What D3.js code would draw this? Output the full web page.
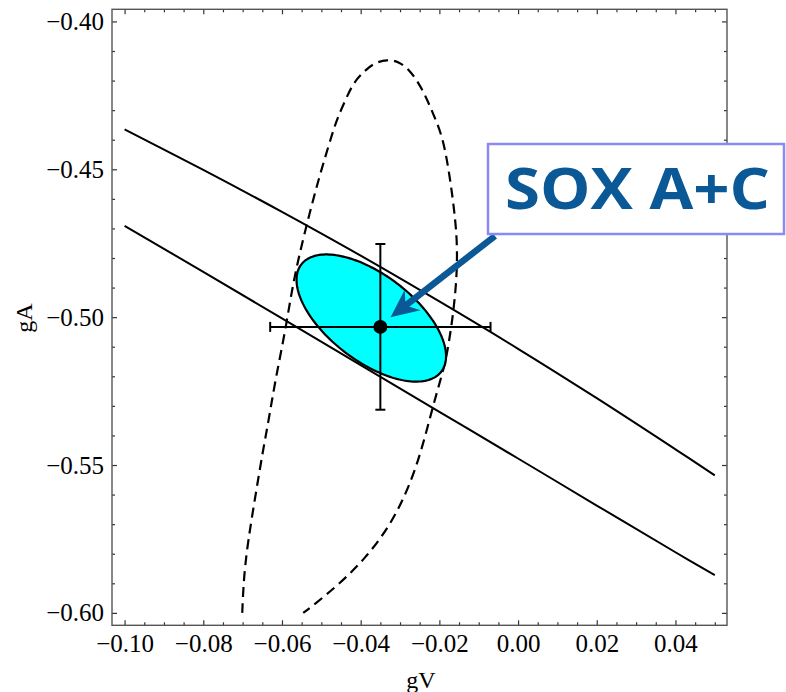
<!DOCTYPE html>
<html>
<head>
<meta charset="utf-8">
<script src="https://cdn.jsdelivr.net/npm/d3@7"></script>
<style>
  body { margin: 0; background: #fff; }
  svg { display: block; }
  .tick text { font-family: "Liberation Serif", "Times New Roman", serif; font-size: 25px; fill: #000; }
  .tick line { stroke: #333; stroke-width: 1.2; }
</style>
</head>
<body>
<div id="chart"></div>
<script>
// tick values and labels
var xTicks = [-0.10, -0.08, -0.06, -0.04, -0.02, 0.00, 0.02, 0.04];
var xTickLabels = ["\u22120.10", "\u22120.08", "\u22120.06", "\u22120.04", "\u22120.02", "0.00", "0.02", "0.04"];
var yTicks = [-0.60, -0.55, -0.50, -0.45, -0.40];
var yTickLabels = ["\u22120.60", "\u22120.55", "\u22120.50", "\u22120.45", "\u22120.40"];

// band edges (solid curves)
var bandGV = [-0.10, -0.08, -0.06, -0.04, -0.02, 0.00, 0.02, 0.04, 0.05];
var bandUpperGA = [-0.4365, -0.4502, -0.4644, -0.4792, -0.4947, -0.5107, -0.5274, -0.5447, -0.5535];
var bandLowerGA = [-0.4691, -0.4847, -0.5004, -0.5162, -0.5320, -0.5478, -0.5637, -0.5795, -0.5872];

// dashed contour
var dashGV = [-0.0701, -0.0701, -0.0696, -0.0675, -0.0647, -0.0635, -0.0617, -0.0591, -0.0571, -0.0541, -0.0508,
              -0.0472, -0.0459, -0.0439, -0.0419, -0.0396, -0.0368, -0.0332, -0.0302, -0.0276, -0.0254,
              -0.0234, -0.0214, -0.0190, -0.0172, -0.0159, -0.0154, -0.0157, -0.0167, -0.0180, -0.0192,
              -0.0210, -0.0230, -0.0253, -0.0286, -0.0330, -0.0388, -0.0452, -0.0520, -0.0546, -0.0546];
var dashGA = [-0.6000, -0.6000, -0.5845, -0.5663, -0.5440, -0.5358, -0.5213, -0.5044, -0.4875, -0.4706, -0.4537,
              -0.4378, -0.4327, -0.4266, -0.4209, -0.4175, -0.4141, -0.4128, -0.4136, -0.4165, -0.4205,
              -0.4255, -0.4318, -0.4395, -0.4537, -0.4672, -0.4773, -0.4892, -0.5010, -0.5122, -0.5189,
              -0.5271, -0.5372, -0.5484, -0.5602, -0.5714, -0.5815, -0.5900, -0.5974, -0.6000, -0.6000];

// SOX A+C contour (centre, half widths, correlation)
var fitCenter = [-0.0373, -0.5003];
var fitSigma = [0.0190, 0.0215];
var fitRho = -0.6;

// best fit point and errors
var bestPoint = [-0.0350, -0.5033];
var bestErr = [0.028, 0.028];

// annotation
var noteText = "SOX A+C";
var noteTip = [-0.0324, -0.5000];

(function () {
var width = 786, height = 692;
var pl = 112, pr = 727, pt = 9.3, pb = 625.3;

var svg = d3.select("#chart").append("svg")
  .attr("width", width).attr("height", height);

var x = d3.scaleLinear().domain([-0.1032, 0.0531]).range([pl, pr]);
var y = d3.scaleLinear().domain([-0.6042, -0.3959]).range([pb, pt]);

svg.append("defs").append("clipPath").attr("id", "plotclip")
  .append("rect").attr("x", pl).attr("y", pt)
  .attr("width", pr - pl).attr("height", pb - pt);

// minor ticks
var xMinor = d3.range(-0.10, 0.0501, 0.005).filter(function (v) { return Math.abs(Math.round(v * 50) - v * 50) > 1e-6; });
var yMinor = d3.range(-0.60, -0.3999, 0.01).filter(function (v) { return Math.abs(Math.round(v * 20) - v * 20) > 1e-6; });

function drawAxis(axis, tx, ty) {
  var g = svg.append("g").attr("transform", "translate(" + tx + "," + ty + ")").call(axis);
  g.select(".domain").remove();
  return g;
}

drawAxis(d3.axisBottom(x).tickValues(xTicks).tickSize(-5).tickSizeOuter(0).tickPadding(9)
  .tickFormat(function (d, i) { return xTickLabels[i]; }), 0, pb);
drawAxis(d3.axisBottom(x).tickValues(xMinor).tickSize(-3).tickFormat(""), 0, pb);
drawAxis(d3.axisTop(x).tickValues(xTicks).tickSize(-5).tickFormat(""), 0, pt);
drawAxis(d3.axisTop(x).tickValues(xMinor).tickSize(-3).tickFormat(""), 0, pt);

drawAxis(d3.axisLeft(y).tickValues(yTicks).tickSize(-5).tickSizeOuter(0).tickPadding(8)
  .tickFormat(function (d, i) { return yTickLabels[i]; }), pl, 0);
drawAxis(d3.axisLeft(y).tickValues(yMinor).tickSize(-3).tickFormat(""), pl, 0);
drawAxis(d3.axisRight(y).tickValues(yTicks).tickSize(-5).tickFormat(""), pr, 0);
drawAxis(d3.axisRight(y).tickValues(yMinor).tickSize(-3).tickFormat(""), pr, 0);

// frame
svg.append("rect")
  .attr("x", pl).attr("y", pt).attr("width", pr - pl).attr("height", pb - pt)
  .attr("fill", "none").attr("stroke", "#555").attr("stroke-width", 1.4);

// axis titles
svg.append("text").attr("x", 421).attr("y", 688).attr("text-anchor", "middle")
  .style("font-family", "'Liberation Serif', serif").style("font-size", "24px").text("gV");
svg.append("text").attr("transform", "translate(32,318) rotate(-90)").attr("text-anchor", "middle")
  .style("font-family", "'Liberation Serif', serif").style("font-size", "24px").text("gA");

var plot = svg.append("g").attr("clip-path", "url(#plotclip)");

var line = d3.line()
  .x(function (d) { return x(d[0]); })
  .y(function (d) { return y(d[1]); });

// band edges
[bandUpperGA, bandLowerGA].forEach(function (arr) {
  plot.append("path")
    .datum(bandGV.map(function (v, i) { return [v, arr[i]]; }))
    .attr("d", line.curve(d3.curveCatmullRom))
    .attr("fill", "none").attr("stroke", "#000").attr("stroke-width", 2);
});

// dashed contour
plot.append("path")
  .datum(dashGV.map(function (v, i) { return [v, dashGA[i]]; }))
  .attr("d", line.curve(d3.curveBasis))
  .attr("fill", "none").attr("stroke", "#000").attr("stroke-width", 2.2)
  .attr("stroke-dasharray", "10,6");

// SOX A+C contour
var ellipsePts = d3.range(0, 2 * Math.PI, Math.PI / 90).map(function (t) {
  return [fitCenter[0] + fitSigma[0] * Math.cos(t),
          fitCenter[1] + fitSigma[1] * (fitRho * Math.cos(t) + Math.sqrt(1 - fitRho * fitRho) * Math.sin(t))];
});
plot.append("path")
  .datum(ellipsePts)
  .attr("d", line.curve(d3.curveLinearClosed))
  .attr("fill", "#00ffff").attr("stroke", "#000").attr("stroke-width", 2.2);

// error bars
var eb = plot.append("g").attr("stroke", "#000").attr("stroke-width", 2);
var cx = x(bestPoint[0]), cy = y(bestPoint[1]);
var xl = x(bestPoint[0] - bestErr[0]), xr = x(bestPoint[0] + bestErr[0]);
var yt = y(bestPoint[1] + bestErr[1]), yb = y(bestPoint[1] - bestErr[1]);
eb.append("line").attr("x1", xl).attr("x2", xr).attr("y1", cy).attr("y2", cy);
eb.append("line").attr("x1", cx).attr("x2", cx).attr("y1", yt).attr("y2", yb);
[xl, xr].forEach(function (px) {
  eb.append("line").attr("x1", px).attr("x2", px).attr("y1", cy - 5).attr("y2", cy + 5);
});
[yt, yb].forEach(function (py) {
  eb.append("line").attr("x1", cx - 5).attr("x2", cx + 5).attr("y1", py).attr("y2", py);
});
plot.append("circle").attr("cx", cx).attr("cy", cy).attr("r", 7).attr("fill", "#000");

// annotation arrow
var blue = "#0b5896";
var tail = [495, 236];
var tip = [x(noteTip[0]), y(noteTip[1])];
var ang = Math.atan2(tip[1] - tail[1], tip[0] - tail[0]) * 180 / Math.PI;
var len = Math.hypot(tip[0] - tail[0], tip[1] - tail[1]);
var arrow = svg.append("g").attr("transform", "translate(" + tail[0] + "," + tail[1] + ") rotate(" + ang + ")");
arrow.append("line").attr("x1", 0).attr("y1", 0).attr("x2", len - 16).attr("y2", 0)
  .attr("stroke", blue).attr("stroke-width", 6.5);
arrow.append("path")
  .attr("d", "M" + len + ",0 L" + (len - 28) + ",-13 L" + (len - 19) + ",0 L" + (len - 28) + ",13 Z")
  .attr("fill", blue);

// annotation box
svg.append("rect").attr("x", 488).attr("y", 144).attr("width", 296).attr("height", 90)
  .attr("fill", "#fff").attr("stroke", "#8a8af5").attr("stroke-width", 2.5);
svg.append("text").attr("x", 505).attr("y", 209)
  .attr("textLength", 265).attr("lengthAdjust", "spacingAndGlyphs")
  .style("font-family", "'Open Sans', sans-serif").style("font-weight", 700)
  .style("font-size", "57px").attr("fill", blue).text(noteText);
})();
</script>
</body>
</html>
